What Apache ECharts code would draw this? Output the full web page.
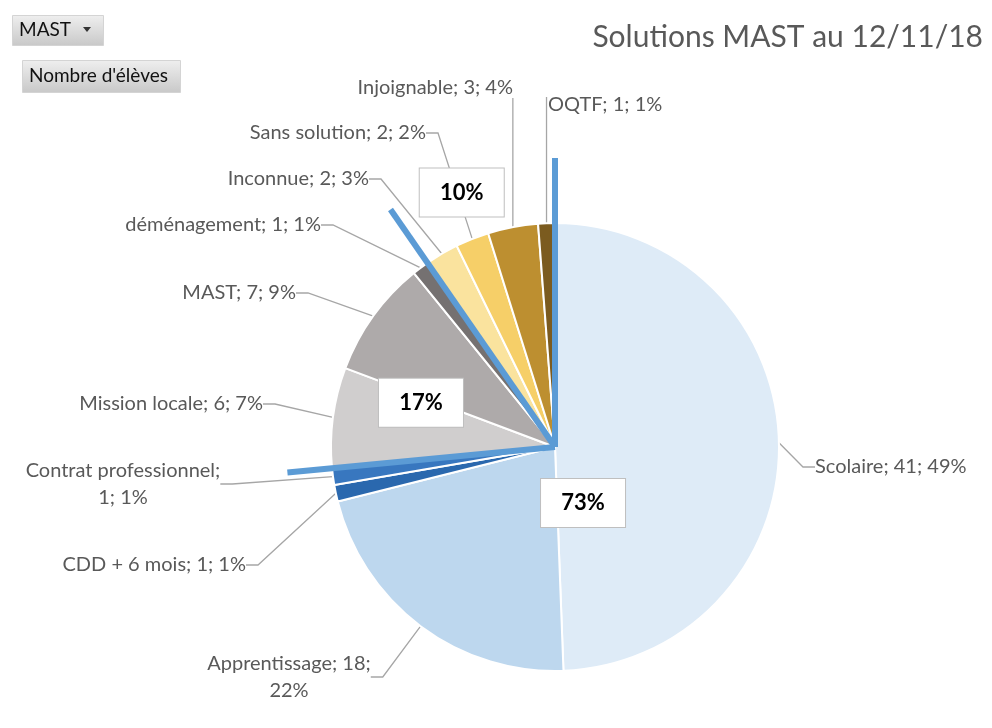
<!DOCTYPE html>
<html>
<head>
<meta charset="utf-8">
<title>Solutions MAST au 12/11/18</title>
<script src="https://cdn.jsdelivr.net/npm/echarts@6/dist/echarts.min.js"></script>
<style>
html,body{margin:0;padding:0;background:#fff;}
#chart{width:992px;height:728px;}
</style>
</head>
<body>
<div id="chart"></div>
<script>
// données
var solutions = ['Scolaire', 'Apprentissage', 'CDD + 6 mois', 'Contrat professionnel', 'Mission locale', 'MAST', 'déménagement', 'Inconnue', 'Sans solution', 'Injoignable', 'OQTF'];
var eleves = [41, 18, 1, 1, 6, 7, 1, 2, 2, 3, 1];
var pourcents = [49, 22, 1, 1, 7, 9, 1, 3, 2, 4, 1];
// nombre de solutions dans chaque groupe (73% / 17% / 10%)
var groupes = [4, 3, 4];

// style
var couleurs = ['#deebf7', '#bdd7ee', '#2a68ae', '#3877bf', '#d0cece', '#aeaaaa', '#757171', '#fae39e', '#f6cf68', '#bd8f30', '#7b5b1f'];
var retourLigne = {1: 2, 3: 1};   // saut de ligne après n morceaux
var etiquettes = [ // x, y, alignement
    [815, 467, 'left'], [289, 677, 'center'], [246, 565, 'right'], [123, 484, 'center'],
    [263, 404, 'right'], [296, 293, 'right'], [321, 225, 'right'], [369, 179, 'right'],
    [426, 133, 'right'], [513, 88, 'right'], [548, 105, 'left']
];
var traitVertical = {9: 10, 10: -8};  // repères verticaux (décalage du haut du trait)
var porteeSep = [1.29, 1.2, 1.29];    // longueur des séparateurs bleus (x rayon)
var posGroupe = [[0.28, 0.58], [0.63, 0.39], [1.21, 0.42]]; // rayon, fraction du groupe

var centre = [555, 447], rayon = 224;
var police = 'Lato, "Open Sans", sans-serif';

var total = eleves.reduce(function (a, b) { return a + b; }, 0);

// bornes et sommes des groupes
var bornes = [], sommes = [], debut = 0, idx = 0;
groupes.forEach(function (n) {
    var s = 0;
    for (var i = 0; i < n; i++) s += eleves[idx++];
    bornes.push(debut);
    sommes.push(s);
    debut += s;
});

var chart = echarts.init(document.getElementById('chart'));

var series = [{
    type: 'pie',
    center: centre,
    radius: rayon,
    startAngle: 90,
    clockwise: true,
    avoidLabelOverlap: false,
    silent: true,
    data: solutions.map(function (n, i) {
        return { name: n, value: eleves[i], itemStyle: { color: couleurs[i] } };
    }),
    itemStyle: { borderColor: '#fff', borderWidth: 2 },
    label: {
        show: true,
        position: 'outside',
        color: '#595959',
        fontFamily: police,
        fontSize: 20,
        lineHeight: 27,
        formatter: function (p) {
            var morceaux = [p.name, p.value, pourcents[p.dataIndex] + '%'];
            var k = retourLigne[p.dataIndex];
            if (k) return morceaux.slice(0, k).join('; ') + ';\n' + morceaux.slice(k).join('; ');
            return morceaux.join('; ');
        }
    },
    labelLine: { show: true, length: 10, length2: 12, lineStyle: { color: '#a6a6a6', width: 1.3 } },
    labelLayout: function (p) {
        var e = etiquettes[p.dataIndex];
        var res = { x: e[0], y: e[1], align: e[2], verticalAlign: 'middle' };
        var dv = traitVertical[p.dataIndex];
        if (dv != null && p.labelLinePoints) {
            var a = p.labelLinePoints[0];
            res.labelLinePoints = [[a[0], a[1]], [a[0], e[1] + dv], [a[0], e[1] + dv]];
        }
        return res;
    }
}];

// séparateurs bleus entre les groupes
bornes.forEach(function (b, k) {
    series.push({
        type: 'line',
        coordinateSystem: 'polar',
        data: [[0, b], [porteeSep[k], b]],
        symbol: 'none',
        silent: true,
        z: 5,
        lineStyle: { color: '#5b9bd5', width: 6 }
    });
});

// pourcentages des groupes
series.push({
    type: 'scatter',
    coordinateSystem: 'polar',
    symbolSize: 1,
    silent: true,
    z: 6,
    itemStyle: { color: 'rgba(0,0,0,0)', opacity: 1 },
    data: sommes.map(function (s, k) {
        return { value: [posGroupe[k][0], bornes[k] + s * posGroupe[k][1]], pct: Math.round(s / total * 100) };
    }),
    label: {
        show: true,
        position: 'inside',
        formatter: function (p) { return p.data.pct + '%'; },
        backgroundColor: '#fff',
        borderColor: '#bfbfbf',
        borderWidth: 1,
        width: 84,
        height: 48,
        lineHeight: 48,
        align: 'center',
        fontFamily: police,
        fontSize: 22,
        fontWeight: 'bold',
        color: '#000'
    }
});

var degrade = new echarts.graphic.LinearGradient(0, 0, 0, 1, [
    { offset: 0, color: '#efefef' }, { offset: 1, color: '#c8c8c8' }
]);

chart.setOption({
    animation: false,
    title: {
        text: 'Solutions MAST au 12/11/18',
        right: 4,
        top: 17,
        textStyle: { color: '#595959', fontFamily: police, fontSize: 30, fontWeight: 'normal' }
    },
    polar: { center: centre, radius: rayon * 1.3 },
    angleAxis: { type: 'value', min: 0, max: total, startAngle: 90, clockwise: true, show: false },
    radiusAxis: { type: 'value', min: 0, max: 1.3, show: false },
    graphic: [
        { type: 'rect', left: 12, top: 15, shape: { width: 91, height: 30 }, style: { fill: degrade, stroke: '#d4d4d4' } },
        { type: 'text', left: 19, top: 20, style: { text: 'MAST', font: '19px ' + police, fill: '#111' } },
        { type: 'polygon', shape: { points: [[83, 27], [91, 27], [87, 32]] }, style: { fill: '#333' } },
        { type: 'rect', left: 22, top: 60, shape: { width: 158, height: 32 }, style: { fill: degrade, stroke: '#d4d4d4' } },
        { type: 'text', left: 29, top: 66, style: { text: "Nombre d'élèves", font: '19px ' + police, fill: '#111' } }
    ],
    series: series
});
</script>
</body>
</html>
